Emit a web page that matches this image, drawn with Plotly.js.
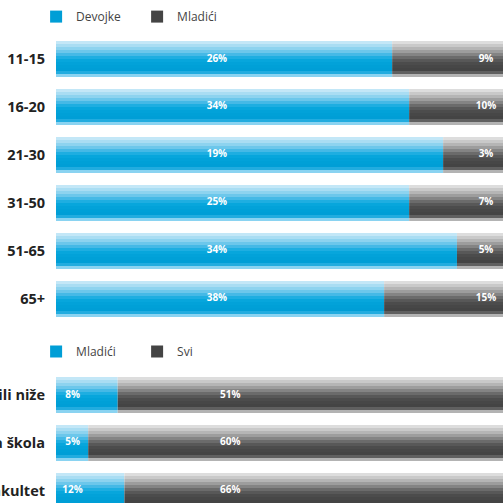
<!DOCTYPE html>
<html>
<head>
<meta charset="utf-8">
<script src="https://cdn.plot.ly/plotly-3.0.1.min.js"></script>
<style>html,body{margin:0;padding:0;background:#fff;}#chart{width:503px;height:503px;}</style>
</head>
<body>
<div id="chart"></div>
<script>
// ---- data ----
const ageGroups = ['11-15', '16-20', '21-30', '31-50', '51-65', '65+'];
const ageGirlsShare = [75.2, 79.0, 86.6, 79.0, 89.7, 73.4];
const ageBoysShare = [24.8, 21.0, 13.4, 21.0, 10.3, 26.6];
const ageGirlsLabel = ['26%', '34%', '19%', '25%', '34%', '38%'];
const ageBoysLabel = ['9%', '10%', '3%', '7%', '5%', '15%'];

const eduGroups = ['Osnovna škola ili niže', 'Srednja škola', 'Fakultet'];
const eduBoysShare = [13.8, 7.2, 15.3];
const eduAllShare = [86.2, 92.8, 84.7];
const eduBoysLabel = ['8%', '5%', '12%'];
const eduAllLabel = ['51%', '60%', '66%'];

// ---- styles ----
const FONT = 'Open Sans, DejaVu Sans, sans-serif';
const BAR_W = 0.75;
const BLUE_BANDS = ['#c3e7f7','#a9ddf3','#8dd3ef','#6cc7eb','#45b9e6','#1eaee1','#07a6dc','#02a2d9','#00a0d7','#009ed6','#22acdf','#8ad3f1'];
const GRAY_BANDS = ['#dddddd','#c9c9c9','#b5b5b5','#9d9d9d','#848484','#6b6b6b','#585858','#4c4c4c','#474747','#444444','#606060','#b3b3b3'];
const LEGEND_BAND = 9;
const LABEL_POS = {ageGirls: 36.0, ageBoys: 96.2, eduBoys: 3.7, eduAll: 39.0};

const traces = [];
function addSeries(cats, vals, base, colors, name, xa, ya, legendId) {
  const n = colors.length;
  const w = BAR_W / n;
  colors.forEach((c, i) => {
    const t = {
      type: 'bar', orientation: 'h', y: cats, x: vals,
      width: w, offset: -BAR_W / 2 + i * w,
      marker: {color: c, line: {width: 0}},
      xaxis: xa, yaxis: ya, name: name,
      showlegend: i === LEGEND_BAND, legend: legendId,
      hoverinfo: 'skip'
    };
    if (base) t.base = base;
    traces.push(t);
  });
}
function addLabels(cats, labels, pos, xa, ya) {
  traces.push({
    type: 'scatter', mode: 'text', y: cats, x: cats.map(() => pos), text: labels,
    textposition: 'middle center',
    textfont: {family: FONT, size: 10, color: '#ffffff', weight: 700},
    xaxis: xa, yaxis: ya, showlegend: false, hoverinfo: 'skip', cliponaxis: false
  });
}

addSeries(ageGroups, ageGirlsShare, null, BLUE_BANDS, 'Devojke', 'x', 'y', 'legend');
addSeries(ageGroups, ageBoysShare, ageGirlsShare, GRAY_BANDS, 'Mladići', 'x', 'y', 'legend');
addSeries(eduGroups, eduBoysShare, null, BLUE_BANDS, 'Mladići', 'x2', 'y2', 'legend2');
addSeries(eduGroups, eduAllShare, eduBoysShare, GRAY_BANDS, 'Svi', 'x2', 'y2', 'legend2');
addLabels(ageGroups, ageGirlsLabel, LABEL_POS.ageGirls, 'x', 'y');
addLabels(ageGroups, ageBoysLabel, LABEL_POS.ageBoys, 'x', 'y');
addLabels(eduGroups, eduBoysLabel, LABEL_POS.eduBoys, 'x2', 'y2');
addLabels(eduGroups, eduAllLabel, LABEL_POS.eduAll, 'x2', 'y2');

const yTickFont = {family: FONT, size: 14.5, color: '#222222', weight: 700};
const legendCommon = {
  orientation: 'h', xanchor: 'left', yanchor: 'middle',
  font: {family: FONT, size: 12, color: '#444444'},
  bgcolor: 'rgba(0,0,0,0)', borderwidth: 0, traceorder: 'normal',
  entrywidth: 56, entrywidthmode: 'pixels'
};
const xHidden = {range: [0, 100], visible: false, fixedrange: true, showgrid: false, zeroline: false};
const layout = {
  width: 503, height: 503,
  margin: {l: 56, r: 0, t: 0, b: 0, pad: 0},
  paper_bgcolor: '#ffffff', plot_bgcolor: '#ffffff',
  barmode: 'overlay',
  showlegend: true,
  xaxis: Object.assign({anchor: 'y', domain: [0, 1]}, xHidden),
  xaxis2: Object.assign({anchor: 'y2', domain: [0, 1]}, xHidden),
  yaxis: {
    anchor: 'x', domain: [0.3579, 0.9304], type: 'category', range: [5.5, -0.5],
    tickfont: yTickFont, ticks: '', ticklabelstandoff: 10, showgrid: false,
    zeroline: false, showline: false, automargin: false, fixedrange: true
  },
  yaxis2: {
    anchor: 'x2', domain: [0, 0.2624], type: 'category', range: [2.25, -0.5],
    tickfont: yTickFont, ticks: '', ticklabelstandoff: 10, showgrid: false,
    zeroline: false, showline: false, automargin: false, fixedrange: true
  },
  legend: Object.assign({x: -0.0445, y: 0.967}, legendCommon),
  legend2: Object.assign({x: -0.0445, y: 0.3012}, legendCommon)
};

Plotly.newPlot('chart', traces, layout, {displayModeBar: false, staticPlot: true});
</script>
</body>
</html>
